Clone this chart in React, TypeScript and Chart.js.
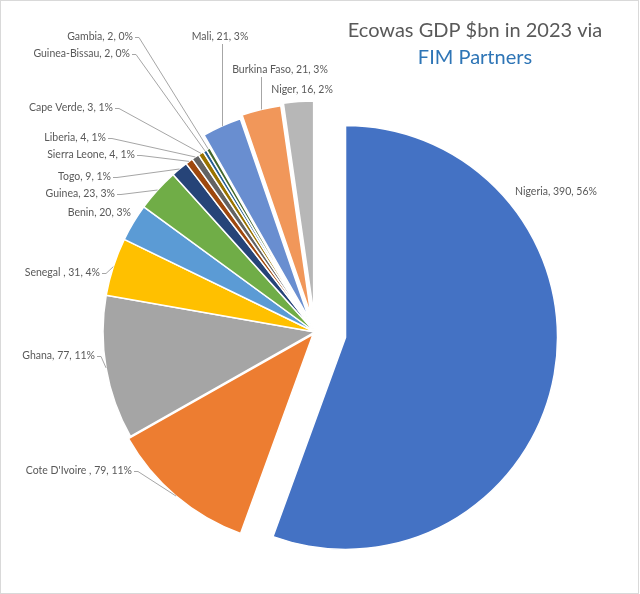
import { useEffect, useRef } from "react";
import { Chart, PieController, ArcElement } from "chart.js";

Chart.register(PieController, ArcElement);

// ---- data ----
const countries = [
  "Nigeria",
  "Cote D'Ivoire ",
  "Ghana",
  "Senegal ",
  "Benin",
  "Guinea",
  "Togo",
  "Sierra Leone",
  "Liberia",
  "Cape Verde",
  "Guinea-Bissau",
  "Gambia",
  "Mali",
  "Burkina Faso",
  "Niger",
];
const gdpBn = [390, 79, 77, 31, 20, 23, 9, 4, 4, 3, 2, 2, 21, 21, 16];
const sharePct = [56, 11, 11, 4, 3, 3, 1, 1, 1, 1, 0, 0, 3, 3, 2];
const titleLines = ["Ecowas GDP $bn in 2023 via", "FIM Partners"];

// ---- styles ----
const sliceColors = [
  "#4472C4", "#ED7D31", "#A5A5A5", "#FFC000", "#5B9BD5", "#70AD47",
  "#264478", "#9E480E", "#636363", "#997300", "#255E91", "#43682B",
  "#698ED0", "#F1975A", "#B7B7B7",
];
const explodePx = [31, 3, 0, 0, 0, 0, 0, 0, 0, 0, 0, 0, 14, 17, 19];

type Lay = { x: number; y: number; align: CanvasTextAlign; line: "none" | "side" | "down" };
const labelLayout: Lay[] = [
  { x: 515, y: 192, align: "left", line: "none" },
  { x: 132, y: 471, align: "right", line: "side" },
  { x: 95, y: 356, align: "right", line: "side" },
  { x: 100, y: 273, align: "right", line: "side" },
  { x: 131, y: 213, align: "right", line: "none" },
  { x: 115, y: 194, align: "right", line: "side" },
  { x: 111, y: 177, align: "right", line: "side" },
  { x: 135, y: 155, align: "right", line: "side" },
  { x: 106, y: 138, align: "right", line: "side" },
  { x: 113, y: 108, align: "right", line: "side" },
  { x: 130, y: 54, align: "right", line: "side" },
  { x: 133, y: 37, align: "right", line: "side" },
  { x: 220, y: 37, align: "center", line: "down" },
  { x: 280, y: 70, align: "center", line: "down" },
  { x: 302, y: 90, align: "center", line: "none" },
];

const FONT = "Lato, 'Open Sans', sans-serif";

const framePlugin = {
  id: "frame",
  beforeDraw(chart: any) {
    const ctx = chart.ctx as CanvasRenderingContext2D;
    ctx.save();
    ctx.fillStyle = "#ffffff";
    ctx.fillRect(0, 0, chart.width, chart.height);
    ctx.strokeStyle = "#D9D9D9";
    ctx.lineWidth = 1;
    ctx.strokeRect(0.5, 0.5, chart.width - 2, chart.height - 1);
    ctx.restore();
  },
};

const explodePlugin = {
  id: "explode",
  afterDatasetsUpdate(chart: any) {
    const meta = chart.getDatasetMeta(0);
    const ca = chart.chartArea;
    const cx = (ca.left + ca.right) / 2;
    const cy = (ca.top + ca.bottom) / 2;
    meta.data.forEach((arc: any, i: number) => {
      const d = explodePx[i] || 0;
      const mid = (arc.startAngle + arc.endAngle) / 2;
      arc.x = cx + Math.cos(mid) * d;
      arc.y = cy + Math.sin(mid) * d;
    });
  },
};

const labelPlugin = {
  id: "labels",
  afterDatasetsDraw(chart: any) {
    const ctx = chart.ctx as CanvasRenderingContext2D;
    const meta = chart.getDatasetMeta(0);
    ctx.save();
    ctx.font = `10.5px ${FONT}`;
    ctx.textBaseline = "middle";
    meta.data.forEach((arc: any, i: number) => {
      const lay = labelLayout[i];
      const text = `${countries[i]}, ${gdpBn[i]}, ${sharePct[i]}%`;
      const mid = (arc.startAngle + arc.endAngle) / 2;
      const px = arc.x + Math.cos(mid) * arc.outerRadius;
      const py = arc.y + Math.sin(mid) * arc.outerRadius;
      ctx.strokeStyle = "#A6A6A6";
      ctx.lineWidth = 1;
      if (lay.line === "side") {
        ctx.beginPath();
        ctx.moveTo(lay.x + 2, lay.y + 0.5);
        ctx.lineTo(lay.x + 6, lay.y + 0.5);
        ctx.lineTo(px, py);
        ctx.stroke();
      } else if (lay.line === "down") {
        const lx = Math.round(px) + 0.5;
        ctx.beginPath();
        ctx.moveTo(lx, lay.y + 7);
        ctx.lineTo(lx, py);
        ctx.stroke();
      }
      ctx.fillStyle = "#595959";
      ctx.textAlign = lay.align;
      ctx.fillText(text, lay.x, lay.y);
    });
    ctx.font = `20px ${FONT}`;
    ctx.textAlign = "center";
    ctx.fillStyle = "#595959";
    ctx.fillText(titleLines[0], 475, 31);
    ctx.fillStyle = "#2E75B6";
    ctx.fillText(titleLines[1], 475, 58);
    ctx.restore();
  },
};

export default function App() {
  const ref = useRef<HTMLCanvasElement | null>(null);
  useEffect(() => {
    if (!ref.current) return;
    const chart = new Chart(ref.current, {
      type: "pie",
      data: {
        labels: countries,
        datasets: [
          {
            data: gdpBn,
            backgroundColor: sliceColors,
            borderColor: "#ffffff",
            borderWidth: 1.5,
            radius: 212,
            hoverOffset: 0,
          } as any,
        ],
      },
      options: {
        responsive: false,
        animation: false,
        events: [],
        devicePixelRatio: 1,
        layout: { padding: { left: 60, right: 70, top: 100, bottom: 30 } },
        plugins: { legend: { display: false }, tooltip: { enabled: false } } as any,
      },
      plugins: [framePlugin, explodePlugin, labelPlugin],
    });
    return () => chart.destroy();
  }, []);
  return (
    <div style={{ position: "absolute", left: 0, top: 0, width: 640, height: 594 }}>
      <canvas ref={ref} width={640} height={594} />
    </div>
  );
}
